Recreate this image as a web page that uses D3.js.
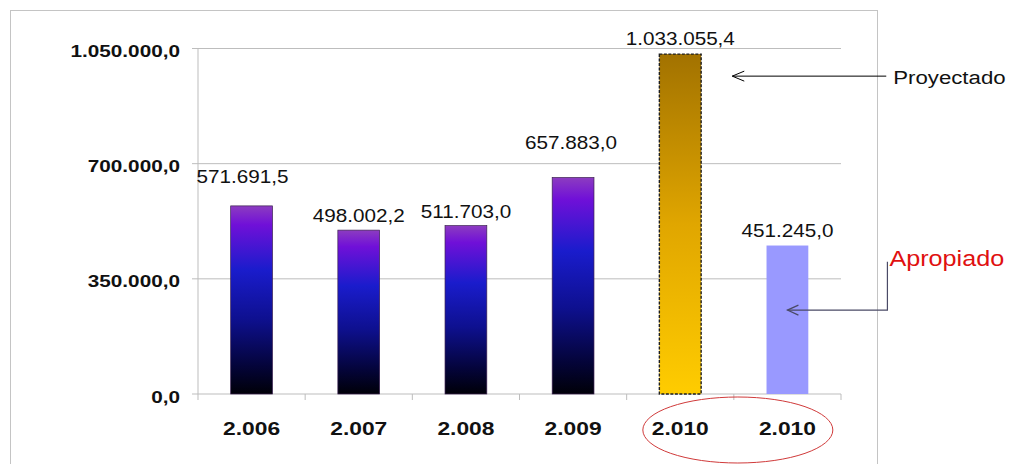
<!DOCTYPE html>
<html>
<head>
<meta charset="utf-8">
<script src="https://cdn.jsdelivr.net/npm/d3@7"></script>
<style>
    body { margin: 0; background: #fff; }
    svg text { font-family: "Liberation Sans", Arial, sans-serif; }
</style>
</head>
<body>
<svg id="chart" width="1015" height="464"></svg>
<script>
    // datos
    var keys = ["2006", "2007", "2008", "2009", "2010p", "2010a"];
    var tickLabels = ["2.006", "2.007", "2.008", "2.009", "2.010", "2.010"];
    var values = [571691.5, 498002.2, 511703.0, 657883.0, 1033055.4, 451245.0];
    var kinds = ["hist", "hist", "hist", "hist", "proy", "apro"];
    var yTicks = [0, 350000, 700000, 1050000];

    // ajuste manual de las etiquetas (como en el original)
    var labelDx = [-9, 0, 0, -2, 0, 0];
    var labelDy = [-23, -8, -8, -29, -9, -9];

    var svg = d3.select("#chart"),
        margin = { top: 48.5, left: 198, right: 174, bottom: 70 },
        width = +svg.attr("width") - margin.left - margin.right,
        height = +svg.attr("height") - margin.top - margin.bottom;

    var loc = d3.formatLocale({ decimal: ",", thousands: ".", grouping: [3], currency: ["", ""] });
    var fmt = loc.format(",.1f");

    // texto ensanchado horizontalmente, como en la imagen
    function wideText(sel, sx) {
        return sel.attr("transform", function() {
            var t = d3.select(this);
            return "translate(" + t.attr("data-x") + "," + t.attr("data-y") + ") scale(" + sx + ",1)";
        });
    }

    // marco
    svg.append("rect")
        .attr("x", 10.5).attr("y", 10.5)
        .attr("width", 867).attr("height", 480)
        .attr("fill", "none")
        .attr("stroke", "#c4c4c4");

    var defs = svg.append("defs");
    var gH = defs.append("linearGradient").attr("id", "gHist")
        .attr("x1", 0).attr("y1", 0).attr("x2", 0).attr("y2", 1);
    [[0, "#8c3cc0"], [0.1, "#7010d8"], [0.34, "#1a1ccc"], [0.6, "#0e1090"], [0.85, "#04043a"], [1, "#000008"]]
        .forEach(function(s) { gH.append("stop").attr("offset", s[0]).attr("stop-color", s[1]); });
    var gP = defs.append("linearGradient").attr("id", "gProy")
        .attr("x1", 0).attr("y1", 0).attr("x2", 0).attr("y2", 1);
    [[0, "#a27200"], [0.5, "#e0a600"], [1, "#ffcc00"]]
        .forEach(function(s) { gP.append("stop").attr("offset", s[0]).attr("stop-color", s[1]); });

    var g = svg.append("g").attr("transform", "translate(" + margin.left + "," + margin.top + ")");

    var x = d3.scaleBand().domain(keys).range([0, width]).padding(0);
    var y = d3.scaleLinear().domain([0, 1050000]).range([height, 0]);
    var barW = x.bandwidth() * 0.39;

    // rejilla
    g.append("g").selectAll("line").data(yTicks).join("line")
        .attr("x1", -6).attr("x2", width)
        .attr("y1", function(d) { return y(d); })
        .attr("y2", function(d) { return y(d); })
        .attr("stroke", "#bdbdbd");

    // eje y
    g.append("line").attr("x1", 0).attr("x2", 0).attr("y1", 0).attr("y2", height).attr("stroke", "#bdbdbd");
    g.append("g").selectAll("text").data(yTicks).join("text")
        .attr("data-x", -18)
        .attr("data-y", function(d) { return y(d) + 8.5; })
        .attr("text-anchor", "end")
        .attr("font-size", 17)
        .attr("font-weight", "bold")
        .attr("fill", "#111")
        .text(function(d) { return fmt(d); })
        .call(wideText, 1.22);

    // eje x
    var bounds = keys.map(function(k) { return x(k); }).concat([width]);
    g.append("g").selectAll("line").data(bounds).join("line")
        .attr("x1", function(d) { return d; }).attr("x2", function(d) { return d; })
        .attr("y1", height).attr("y2", height + 6)
        .attr("stroke", "#bdbdbd");
    g.append("g").selectAll("text").data(keys).join("text")
        .attr("data-x", function(d) { return x(d) + x.bandwidth() / 2; })
        .attr("data-y", height + 41)
        .attr("text-anchor", "middle")
        .attr("font-size", 19)
        .attr("font-weight", "bold")
        .attr("fill", "#111")
        .text(function(d, i) { return tickLabels[i]; })
        .call(wideText, 1.2);

    // barras
    g.append("g").selectAll("rect").data(values).join("rect")
        .attr("x", function(d, i) { return x(keys[i]) + (x.bandwidth() - barW) / 2; })
        .attr("y", function(d) { return y(d); })
        .attr("width", barW)
        .attr("height", function(d) { return height - y(d); })
        .attr("fill", function(d, i) {
            return kinds[i] === "hist" ? "url(#gHist)" : kinds[i] === "proy" ? "url(#gProy)" : "#9999ff";
        })
        .attr("stroke", function(d, i) {
            return kinds[i] === "hist" ? "#3a2050" : kinds[i] === "proy" ? "#1e1e1e" : "none";
        })
        .attr("stroke-width", function(d, i) { return kinds[i] === "proy" ? 1.4 : 0.7; })
        .attr("stroke-dasharray", function(d, i) { return kinds[i] === "proy" ? "3,1.5" : null; });

    // etiquetas de valor
    g.append("g").selectAll("text").data(values).join("text")
        .attr("data-x", function(d, i) { return x(keys[i]) + x.bandwidth() / 2 + labelDx[i]; })
        .attr("data-y", function(d, i) { return y(d) + labelDy[i]; })
        .attr("text-anchor", "middle")
        .attr("font-size", 18)
        .attr("fill", "#111")
        .text(function(d) { return fmt(d); })
        .call(wideText, 1.15);

    // anotaciones
    var cP = x("2010p") + x.bandwidth() / 2,
        cA = x("2010a") + x.bandwidth() / 2;

    var yP = y(966000);
    g.append("line")
        .attr("x1", cP + 52).attr("x2", cP + 206)
        .attr("y1", yP).attr("y2", yP)
        .attr("stroke", "#000");
    g.append("path")
        .attr("d", "M" + (cP + 64) + "," + (yP - 5) + "L" + (cP + 52) + "," + yP + "L" + (cP + 64) + "," + (yP + 5))
        .attr("fill", "none").attr("stroke", "#000");
    g.append("text")
        .attr("data-x", cP + 213).attr("data-y", yP + 8)
        .attr("font-size", 19)
        .attr("fill", "#111")
        .text("Proyectado")
        .call(wideText, 1.17);

    var yA = y(255000);
    g.append("path")
        .attr("d", "M" + (cA + 100) + "," + y(402000) + "V" + yA + "H" + cA)
        .attr("fill", "none").attr("stroke", "#4a4a66").attr("stroke-width", 1.2);
    g.append("path")
        .attr("d", "M" + (cA + 11) + "," + (yA - 5) + "L" + cA + "," + yA + "L" + (cA + 11) + "," + (yA + 5))
        .attr("fill", "none").attr("stroke", "#4a4a66").attr("stroke-width", 1.2);
    g.append("text")
        .attr("data-x", cA + 102).attr("data-y", y(390000))
        .attr("font-size", 22.5)
        .attr("fill", "#e01010")
        .text("Apropiado")
        .call(wideText, 1.12);

    g.append("ellipse")
        .attr("cx", x("2010a") + 4)
        .attr("cy", height + 36)
        .attr("rx", 95).attr("ry", 33)
        .attr("fill", "none")
        .attr("stroke", "#d03a3a")
        .attr("stroke-width", 1);
</script>
</body>
</html>
